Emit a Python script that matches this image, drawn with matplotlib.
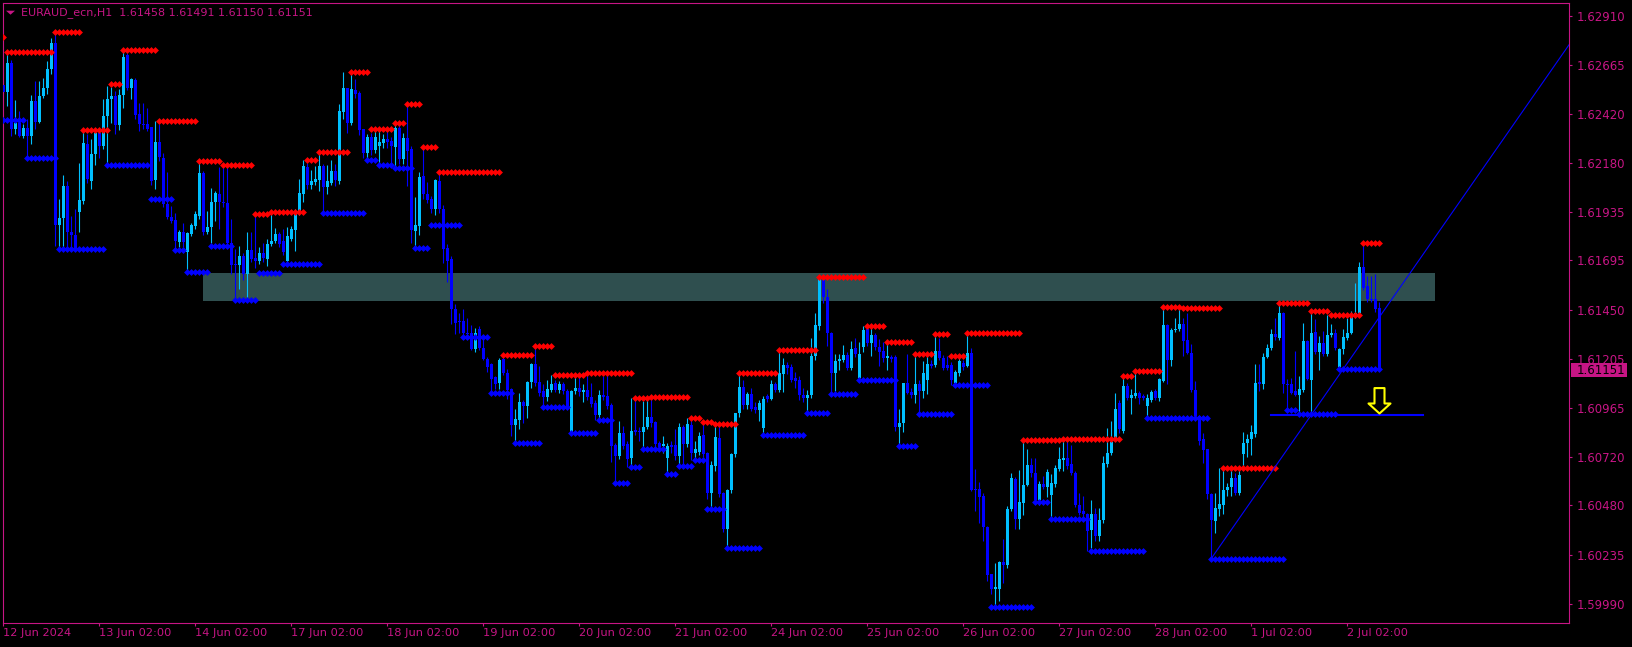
import numpy as np
import matplotlib
matplotlib.use("Agg")
import matplotlib.pyplot as plt
from matplotlib.path import Path
from matplotlib.patches import Rectangle, Polygon
from matplotlib.transforms import blended_transform_factory

# EURAUD_ecn H1 candles, prices in points above 1.60000 (1 point = 0.00001)
opens = [
    2565, 2532, 2678, 2347, 2380, 2314, 2352, 2314, 2488, 2383, 2512, 2550, 2645, 2774, 1872, 1905, 2066, 1834, 1821, 1938,
    1991, 2272, 2090, 2223, 2330, 2264, 2413, 2496, 2512, 2367, 2516, 2716, 2550, 2590, 2421, 2372, 2375, 2358, 2094, 2281,
    2206, 1975, 1912, 1895, 1789, 1834, 1738, 1826, 1864, 1917, 2128, 1834, 1859, 1983, 2024, 1983, 1978, 1781, 1677, 1672,
    1715, 1627, 1746, 1706, 1693, 1730, 1701, 1776, 1792, 1826, 1790, 1693, 1800, 1845, 1933, 2024, 2160, 2069, 2087, 2094,
    2165, 2060, 2082, 2140, 2090, 2433, 2550, 2377, 2540, 2529, 2347, 2228, 2309, 2243, 2264, 2277, 2300, 2289, 2261, 2352,
    2198, 2305, 2247, 1842, 1867, 2115, 2024, 2000, 1950, 2090, 1950, 1756, 1701, 1456, 1395, 1395, 1337, 1337, 1255, 1356,
    1262, 1208, 1179, 1116, 1085, 1208, 1138, 1055, 877, 901, 994, 973, 1092, 1179, 1092, 1047, 1019, 1052, 1085, 1052,
    1080, 1047, 843, 1045, 1064, 1042, 1050, 1019, 989, 926, 1025, 1022, 977, 779, 724, 837, 782, 713, 852, 848,
    843, 868, 918, 893, 787, 774, 713, 777, 777, 724, 868, 782, 878, 741, 746, 827, 737, 539, 675, 812,
    539, 360, 555, 736, 936, 1067, 977, 1030, 968, 951, 862, 1022, 1006, 1080, 1052, 1130, 1175, 1168, 1110, 1102,
    1027, 1011, 1026, 1221, 1370, 1598, 1516, 1334, 1138, 1196, 1201, 1224, 1160, 1262, 1113, 1267, 1357, 1284, 1324, 1267,
    1246, 1209, 1216, 1218, 869, 887, 1085, 1042, 1026, 1080, 1047, 1102, 1180, 1175, 1246, 1213, 1175, 1175, 1085, 1135,
    1188, 1171, 1238, 559, 559, 526, 372, 137, 66, 66, 200, 182, 463, 609, 410, 493, 579, 680, 642, 506,
    584, 571, 529, 584, 658, 705, 716, 683, 642, 481, 452, 435, 357, 435, 327, 405, 683, 741, 816, 989,
    849, 1072, 1011, 1022, 1036, 1022, 973, 1003, 1047, 1011, 1097, 1373, 1200, 1349, 1354, 1382, 1299, 1238, 1051, 923,
    807, 758, 534, 402, 463, 480, 554, 571, 614, 539, 733, 791, 809, 832, 1094, 1080, 1218, 1259, 1332, 1312,
    1436, 1084, 1080, 1047, 1027, 1051, 1296, 1102, 1342, 1241, 1287, 1229, 1324, 1337, 1168, 1258, 1312, 1337, 1423, 1436,
    1663, 1569, 1506, 1502, 1458,
]
highs = [
    2590, 2719, 2691, 2491, 2438, 2372, 2396, 2516, 2587, 2587, 2600, 2686, 2802, 2827, 1999, 2118, 2090, 1917, 1950, 2178,
    2342, 2322, 2297, 2347, 2355, 2496, 2562, 2554, 2537, 2545, 2745, 2727, 2603, 2600, 2479, 2479, 2454, 2360, 2390, 2372,
    2231, 2132, 1966, 1933, 1847, 1880, 1834, 1883, 1941, 2190, 2140, 1941, 2057, 2041, 2157, 2165, 2165, 1900, 1751, 1768,
    1730, 1837, 1834, 1917, 1763, 1781, 1801, 1930, 1854, 1834, 1850, 1860, 1866, 1950, 2102, 2193, 2181, 2145, 2165, 2228,
    2173, 2168, 2193, 2173, 2471, 2633, 2550, 2625, 2595, 2537, 2350, 2322, 2330, 2338, 2347, 2322, 2347, 2310, 2377, 2372,
    2330, 2463, 2264, 2008, 2132, 2247, 2085, 2016, 2099, 2132, 1970, 1776, 1718, 1478, 1436, 1452, 1408, 1373, 1361, 1370,
    1310, 1215, 1184, 1120, 1212, 1227, 1155, 1060, 960, 1039, 1002, 1097, 1188, 1272, 1171, 1080, 1100, 1125, 1100, 1097,
    1092, 1055, 1052, 1127, 1122, 1080, 1138, 1085, 1000, 1050, 1120, 1125, 985, 790, 898, 873, 800, 1014, 1014, 870,
    997, 1019, 1006, 900, 800, 824, 790, 800, 860, 888, 880, 915, 915, 800, 843, 895, 745, 700, 881, 873,
    545, 560, 740, 939, 1138, 1100, 1040, 1060, 990, 1000, 1020, 1030, 1100, 1090, 1249, 1210, 1190, 1180, 1140, 1120,
    1060, 1050, 1310, 1436, 1612, 1605, 1552, 1340, 1229, 1229, 1274, 1240, 1296, 1312, 1290, 1372, 1372, 1362, 1335, 1304,
    1292, 1284, 1225, 1225, 960, 1089, 1233, 1060, 1221, 1100, 1196, 1221, 1200, 1329, 1312, 1225, 1223, 1190, 1150, 1229,
    1200, 1337, 1262, 662, 596, 540, 377, 140, 192, 203, 311, 476, 642, 620, 653, 802, 758, 716, 716, 600,
    625, 658, 634, 680, 769, 807, 799, 779, 650, 543, 526, 440, 506, 468, 468, 725, 865, 898, 1039, 1000,
    1120, 1089, 1059, 1148, 1047, 1030, 1030, 1050, 1055, 1114, 1466, 1380, 1362, 1411, 1461, 1411, 1436, 1279, 1097, 930,
    837, 760, 540, 543, 663, 658, 592, 655, 642, 663, 841, 832, 877, 1180, 1180, 1238, 1279, 1357, 1411, 1483,
    1440, 1105, 1114, 1246, 1122, 1383, 1300, 1443, 1403, 1320, 1345, 1426, 1382, 1354, 1262, 1354, 1411, 1445, 1585, 1688,
    1780, 1618, 1618, 1627, 1491,
]
lows = [
    2520, 2463, 2314, 2322, 2310, 2305, 2214, 2272, 2347, 2380, 2504, 2521, 2620, 1768, 1759, 1759, 1751, 1751, 1748, 1834,
    1975, 2080, 2049, 2170, 2206, 2250, 2181, 2380, 2322, 2342, 2454, 2540, 2496, 2400, 2339, 2350, 2339, 2070, 2049, 2190,
    1960, 1900, 1880, 1750, 1760, 1760, 1643, 1815, 1850, 1900, 1820, 1825, 1781, 1892, 1850, 1960, 1770, 1627, 1503, 1552,
    1600, 1511, 1690, 1660, 1680, 1690, 1668, 1768, 1780, 1760, 1720, 1680, 1790, 1740, 1920, 1986, 2049, 2052, 2070, 2041,
    1941, 2024, 2070, 2065, 2074, 2396, 2330, 2366, 2500, 2317, 2206, 2206, 2220, 2230, 2181, 2256, 2256, 2173, 2165, 2173,
    2173, 2065, 1784, 1759, 1821, 2000, 1980, 1930, 1920, 1930, 1685, 1586, 1379, 1329, 1337, 1306, 1310, 1250, 1241, 1250,
    1200, 1141, 1039, 1059, 1055, 1125, 1006, 824, 790, 857, 890, 915, 1060, 1070, 1022, 969, 995, 1040, 1040, 1035,
    1030, 960, 840, 1030, 1020, 990, 1000, 970, 901, 910, 1000, 960, 694, 592, 708, 760, 671, 666, 830, 800,
    761, 860, 870, 761, 760, 740, 637, 740, 705, 676, 675, 770, 706, 706, 730, 720, 509, 459, 650, 520,
    347, 269, 540, 720, 920, 960, 960, 950, 939, 900, 830, 990, 1002, 1040, 1040, 1040, 1130, 1090, 1060, 1000,
    990, 940, 1010, 1200, 1350, 1486, 1271, 1034, 1047, 1150, 1190, 1150, 1150, 1215, 1104, 1240, 1270, 1221, 1250, 1171,
    1190, 1150, 1190, 850, 776, 844, 1030, 1010, 989, 935, 1014, 1031, 1160, 1165, 1200, 1150, 1150, 1075, 1075, 1120,
    1150, 1165, 550, 451, 394, 303, 104, 40, -24, 5, 96, 170, 450, 360, 364, 430, 576, 620, 496, 480,
    560, 520, 413, 570, 650, 650, 660, 630, 470, 430, 420, 253, 269, 300, 300, 390, 670, 730, 800, 840,
    840, 1000, 932, 1010, 981, 1000, 915, 990, 1000, 998, 1090, 1084, 1171, 1340, 1345, 1221, 1230, 1040, 910, 778,
    692, 509, 215, 344, 427, 435, 526, 526, 530, 530, 675, 720, 728, 820, 1047, 1056, 1210, 1250, 1300, 1300,
    1036, 951, 1030, 1020, 931, 1040, 1100, 940, 1230, 1152, 1220, 1220, 1315, 1250, 1158, 1229, 1300, 1330, 1410, 1430,
    1550, 1490, 1490, 1440, 1150,
]
closes = [
    2532, 2678, 2347, 2380, 2314, 2352, 2314, 2488, 2383, 2512, 2550, 2645, 2774, 1872, 1905, 2066, 1834, 1821, 1751, 1994,
    2277, 2100, 2223, 2330, 2264, 2413, 2496, 2512, 2367, 2516, 2706, 2550, 2595, 2418, 2372, 2370, 2350, 2090, 2281, 2209,
    1975, 1912, 1892, 1792, 1834, 1787, 1831, 1870, 1925, 2128, 1834, 1859, 1983, 2029, 1983, 1978, 1781, 1672, 1672, 1715,
    1627, 1746, 1701, 1693, 1730, 1705, 1779, 1792, 1826, 1776, 1735, 1815, 1850, 1933, 2029, 2165, 2069, 2090, 2099, 2165,
    2060, 2090, 2140, 2094, 2438, 2550, 2380, 2545, 2521, 2342, 2228, 2309, 2243, 2310, 2281, 2300, 2284, 2264, 2352, 2201,
    2302, 2239, 1845, 1870, 2110, 2024, 1996, 1953, 2094, 1950, 1751, 1693, 1456, 1387, 1390, 1337, 1328, 1255, 1337, 1262,
    1208, 1168, 1108, 1080, 1199, 1138, 1052, 877, 910, 994, 973, 1093, 1179, 1085, 1039, 1019, 1059, 1080, 1052, 1083,
    1047, 973, 1047, 1064, 1042, 1050, 1019, 981, 926, 1025, 1019, 973, 774, 724, 837, 774, 711, 848, 843, 843,
    868, 918, 886, 782, 771, 782, 774, 771, 724, 868, 782, 881, 741, 757, 824, 733, 539, 678, 819, 534,
    360, 555, 736, 936, 1067, 977, 1030, 959, 951, 986, 1006, 1006, 1080, 1052, 1138, 1175, 1160, 1102, 1097, 1027,
    1011, 1026, 1221, 1373, 1602, 1516, 1334, 1138, 1196, 1204, 1224, 1160, 1254, 1229, 1229, 1350, 1287, 1324, 1267, 1241,
    1213, 1221, 1204, 869, 890, 1085, 1039, 1026, 1080, 1047, 1135, 1180, 1171, 1246, 1209, 1163, 1163, 1102, 1142, 1196,
    1168, 1238, 556, 556, 523, 372, 134, 66, 76, 200, 182, 463, 614, 410, 498, 579, 680, 642, 506, 584,
    571, 645, 589, 663, 708, 716, 675, 642, 481, 443, 435, 352, 435, 327, 405, 688, 741, 794, 956, 857,
    1072, 1014, 1027, 1036, 1014, 1014, 1014, 1044, 1014, 1105, 1373, 1200, 1349, 1354, 1382, 1296, 1238, 1051, 923, 799,
    753, 534, 407, 465, 485, 554, 571, 614, 543, 629, 791, 811, 841, 1085, 1080, 1218, 1262, 1332, 1317, 1436,
    1080, 1077, 1039, 1027, 1056, 1296, 1109, 1337, 1241, 1287, 1229, 1324, 1337, 1259, 1258, 1315, 1337, 1423, 1436, 1663,
    1560, 1506, 1499, 1453, 1151,
]

# fractal levels: (first bar, level in points); each holds until the next one starts
resistance_levels = [
    (0, 2807), (1, 2728), (13, 2832), (20, 2342), (27, 2569), (30, 2742), (39, 2390), (49, 2191), (55, 2171),
    (63, 1925), (67, 1938), (76, 2193), (79, 2236), (87, 2633), (92, 2347), (98, 2377), (101, 2471), (105, 2261),
    (109, 2132), (125, 1227), (133, 1272), (138, 1125), (146, 1138), (158, 1014), (162, 1019), (172, 915),
    (175, 895), (178, 881), (184, 1138), (194, 1249), (204, 1612), (216, 1372), (221, 1292), (228, 1233),
    (233, 1329), (237, 1223), (241, 1337), (255, 802), (265, 807), (280, 1120), (283, 1148), (290, 1466),
    (295, 1461), (305, 663), (319, 1483), (327, 1443), (332, 1426), (340, 1780),
]
support_levels = [
    (0, 2392), (6, 2206), (14, 1750), (26, 2171), (37, 1998), (43, 1749), (46, 1640), (52, 1769), (58, 1498),
    (64, 1635), (70, 1676), (80, 1933), (91, 2196), (94, 2171), (98, 2156), (103, 1759), (107, 1869), (115, 1313),
    (122, 1039), (128, 790), (135, 969), (142, 840), (149, 901), (153, 592), (157, 671), (160, 761), (166, 637),
    (169, 676), (173, 706), (176, 459), (181, 269), (190, 830), (201, 940), (207, 1034), (214, 1104), (224, 776),
    (229, 935), (238, 1075), (247, -24), (258, 495), (262, 413), (272, 255), (286, 915), (302, 215), (321, 951),
    (324, 931), (334, 1158),
]

price_ticks = ["1.62910", "1.62665", "1.62420", "1.62180", "1.61935", "1.61695", "1.61450",
               "1.61205", "1.60965", "1.60720", "1.60480", "1.60235", "1.59990"]
time_labels = ["12 Jun 2024", "13 Jun 02:00", "14 Jun 02:00", "17 Jun 02:00", "18 Jun 02:00",
               "19 Jun 02:00", "20 Jun 02:00", "21 Jun 02:00", "24 Jun 02:00", "25 Jun 02:00",
               "26 Jun 02:00", "27 Jun 02:00", "28 Jun 02:00", "1 Jul 02:00", "2 Jul 02:00"]
time_label_bars = [0, 24, 48, 72, 96, 120, 144, 168, 192, 216, 240, 264, 288, 312, 336]

# chart objects
zone_bars = (49.9, 357.9)
zone_prices = (1.61495, 1.61635)
trend_anchors = [(302, 1.60217), (354, 1.61700)]
hline_bars = (317, 355)
hline_price = 1.60929
arrow_bar, arrow_price = 344, 1.60939

BG = "black"
FRAME = "#C71585"
BULL = "#00BFFF"
BEAR = "#0000FF"
RED = "#FF0000"
ZONE = "#2F4F4F"


def to_price(points):
    return 1.6 + np.asarray(points, dtype=float) / 1e5


def expand_levels(levels, last_bar):
    xs, ys = [], []
    for k, (start, value) in enumerate(levels):
        end = levels[k + 1][0] - 1 if k + 1 < len(levels) else last_bar
        xs.extend(range(start, end + 1))
        ys.extend([value] * (end - start + 1))
    return np.array(xs), to_price(ys)


W, H = 1633, 647
fig = plt.figure(figsize=(W / 100, H / 100), dpi=100, facecolor=BG)
left, right, top, bottom = 2.7, 1569.0, 2.7, 623.3
ax = fig.add_axes([left / W, 1 - bottom / H, (right - left) / W, (bottom - top) / H])
ax.set_facecolor(BG)

o, h, l, c = map(to_price, (opens, highs, lows, closes))
x = np.arange(len(c))
last = len(c) - 1

ax.set_xlim(-0.2, 391.375)
ax.set_ylim(1.598936, 1.629750)

# zone rectangle
ax.add_patch(Rectangle((zone_bars[0], zone_prices[0]), zone_bars[1] - zone_bars[0],
                       zone_prices[1] - zone_prices[0], facecolor=ZONE, edgecolor="none", zorder=0.6))

# candles
up = c >= o
for mask, col in ((up, BULL), (~up, BEAR)):
    ax.vlines(x[mask], l[mask], h[mask], color=col, lw=0.8, zorder=2)
    ax.bar(x[mask], (c - o)[mask], bottom=o[mask], width=0.72, color=col, lw=0, zorder=3)

# fractal level dots
for levels, col in ((resistance_levels, RED), (support_levels, BEAR)):
    lx, ly = expand_levels(levels, last)
    ax.plot(lx, ly, ls="none", marker="D", ms=3.5, mew=0, color=col, zorder=4)

# trend line (ray to the right edge)
(x1, y1), (x2, y2) = trend_anchors
x_end = ax.get_xlim()[1]
ax.plot([x1, x_end], [y1, y1 + (y2 - y1) / (x2 - x1) * (x_end - x1)], color=BEAR, lw=0.8, zorder=5)

# horizontal line and sell arrow
ax.plot(hline_bars, [hline_price, hline_price], color=BEAR, lw=1.5, zorder=5)
arrow = Path([(0, 0), (11, 10), (5, 10), (5, 25.4), (-5, 25.4), (-5, 10), (-11, 10), (0, 0)], closed=True)
ax.plot([arrow_bar], [arrow_price], ls="none", marker=arrow, ms=36.6, mfc="none",
        mec="#FFFF00", mew=1.5, zorder=6)

# axes styling
for sp in ax.spines.values():
    sp.set_color(FRAME)
    sp.set_linewidth(0.8)
ax.yaxis.tick_right()
ax.set_yticks([float(t) for t in price_ticks], price_ticks)
ax.set_xticks(time_label_bars, time_labels)
for lab in ax.get_xticklabels():
    lab.set_horizontalalignment("left")
ax.tick_params(colors=FRAME, labelcolor=FRAME, length=2.2, width=0.8, direction="out")
ax.tick_params(axis="y", labelsize=8.5, pad=3.4)
ax.tick_params(axis="x", labelsize=8.2, pad=1.5)

# current price label
tr = blended_transform_factory(ax.transAxes, ax.transData)
aw = right - left
ax.add_patch(Rectangle(((1570.7 - left) / aw, c[-1] - 0.000348), 56 / aw, 0.000695,
                       transform=tr, facecolor=FRAME, edgecolor="none", clip_on=False, zorder=7))
ax.text((1576.7 - left) / aw, c[-1], f"{c[-1]:.5f}", transform=tr, color="black",
        fontsize=8.5, va="center", ha="left", clip_on=False, zorder=8)

# header
fig.patches.append(Polygon([(6 / W, 1 - 10.7 / H), (15 / W, 1 - 10.7 / H), (10.5 / W, 1 - 14.7 / H)],
                           closed=True, transform=fig.transFigure, facecolor=FRAME, edgecolor="none"))
fig.text(21 / W, 1 - 12.7 / H, f"EURAUD_ecn,H1  {o[-1]:.5f} {h[-1]:.5f} {l[-1]:.5f} {c[-1]:.5f}",
         color=FRAME, fontsize=8, va="center", ha="left")

fig.savefig("out.png", dpi=100, facecolor=BG)
